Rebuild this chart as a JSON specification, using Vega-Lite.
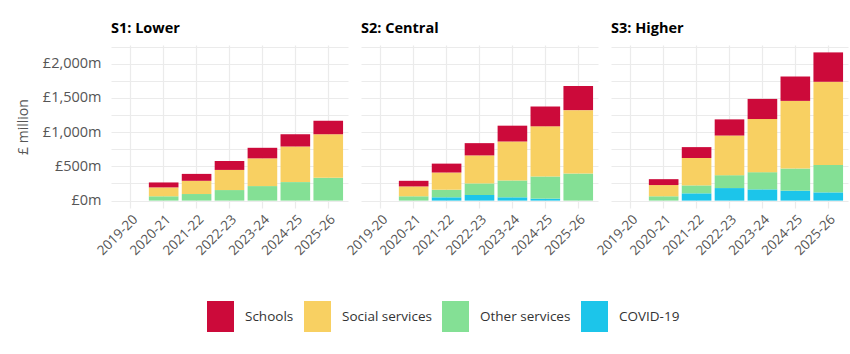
{
  "$schema": "https://vega.github.io/schema/vega-lite/v6.json",
  "padding": {"left": 16, "top": 20, "right": 5, "bottom": 5},
  "data": {"values": [
    {"scenario":"S1: Lower","year":"2020-21","category":"Other services","value":63},
    {"scenario":"S1: Lower","year":"2020-21","category":"Social services","value":130},
    {"scenario":"S1: Lower","year":"2020-21","category":"Schools","value":72},
    {"scenario":"S1: Lower","year":"2021-22","category":"Other services","value":96},
    {"scenario":"S1: Lower","year":"2021-22","category":"Social services","value":193},
    {"scenario":"S1: Lower","year":"2021-22","category":"Schools","value":101},
    {"scenario":"S1: Lower","year":"2022-23","category":"Other services","value":154},
    {"scenario":"S1: Lower","year":"2022-23","category":"Social services","value":294},
    {"scenario":"S1: Lower","year":"2022-23","category":"Schools","value":130},
    {"scenario":"S1: Lower","year":"2023-24","category":"Other services","value":212},
    {"scenario":"S1: Lower","year":"2023-24","category":"Social services","value":405},
    {"scenario":"S1: Lower","year":"2023-24","category":"Schools","value":154},
    {"scenario":"S1: Lower","year":"2024-25","category":"Other services","value":270},
    {"scenario":"S1: Lower","year":"2024-25","category":"Social services","value":520},
    {"scenario":"S1: Lower","year":"2024-25","category":"Schools","value":179},
    {"scenario":"S1: Lower","year":"2025-26","category":"Other services","value":333},
    {"scenario":"S1: Lower","year":"2025-26","category":"Social services","value":636},
    {"scenario":"S1: Lower","year":"2025-26","category":"Schools","value":197},
    {"scenario":"S2: Central","year":"2020-21","category":"Other services","value":63},
    {"scenario":"S2: Central","year":"2020-21","category":"Social services","value":144},
    {"scenario":"S2: Central","year":"2020-21","category":"Schools","value":82},
    {"scenario":"S2: Central","year":"2021-22","category":"COVID-19","value":48},
    {"scenario":"S2: Central","year":"2021-22","category":"Other services","value":111},
    {"scenario":"S2: Central","year":"2021-22","category":"Social services","value":251},
    {"scenario":"S2: Central","year":"2021-22","category":"Schools","value":130},
    {"scenario":"S2: Central","year":"2022-23","category":"COVID-19","value":82},
    {"scenario":"S2: Central","year":"2022-23","category":"Other services","value":169},
    {"scenario":"S2: Central","year":"2022-23","category":"Social services","value":409},
    {"scenario":"S2: Central","year":"2022-23","category":"Schools","value":179},
    {"scenario":"S2: Central","year":"2023-24","category":"COVID-19","value":48},
    {"scenario":"S2: Central","year":"2023-24","category":"Other services","value":246},
    {"scenario":"S2: Central","year":"2023-24","category":"Social services","value":569},
    {"scenario":"S2: Central","year":"2023-24","category":"Schools","value":231},
    {"scenario":"S2: Central","year":"2024-25","category":"COVID-19","value":29},
    {"scenario":"S2: Central","year":"2024-25","category":"Other services","value":323},
    {"scenario":"S2: Central","year":"2024-25","category":"Social services","value":733},
    {"scenario":"S2: Central","year":"2024-25","category":"Schools","value":289},
    {"scenario":"S2: Central","year":"2025-26","category":"Other services","value":395},
    {"scenario":"S2: Central","year":"2025-26","category":"Social services","value":926},
    {"scenario":"S2: Central","year":"2025-26","category":"Schools","value":352},
    {"scenario":"S3: Higher","year":"2020-21","category":"Other services","value":63},
    {"scenario":"S3: Higher","year":"2020-21","category":"Social services","value":164},
    {"scenario":"S3: Higher","year":"2020-21","category":"Schools","value":86},
    {"scenario":"S3: Higher","year":"2021-22","category":"COVID-19","value":106},
    {"scenario":"S3: Higher","year":"2021-22","category":"Other services","value":116},
    {"scenario":"S3: Higher","year":"2021-22","category":"Social services","value":400},
    {"scenario":"S3: Higher","year":"2021-22","category":"Schools","value":159},
    {"scenario":"S3: Higher","year":"2022-23","category":"COVID-19","value":183},
    {"scenario":"S3: Higher","year":"2022-23","category":"Other services","value":188},
    {"scenario":"S3: Higher","year":"2022-23","category":"Social services","value":579},
    {"scenario":"S3: Higher","year":"2022-23","category":"Schools","value":236},
    {"scenario":"S3: Higher","year":"2023-24","category":"COVID-19","value":164},
    {"scenario":"S3: Higher","year":"2023-24","category":"Other services","value":251},
    {"scenario":"S3: Higher","year":"2023-24","category":"Social services","value":776},
    {"scenario":"S3: Higher","year":"2023-24","category":"Schools","value":294},
    {"scenario":"S3: Higher","year":"2024-25","category":"COVID-19","value":145},
    {"scenario":"S3: Higher","year":"2024-25","category":"Other services","value":323},
    {"scenario":"S3: Higher","year":"2024-25","category":"Social services","value":988},
    {"scenario":"S3: Higher","year":"2024-25","category":"Schools","value":356},
    {"scenario":"S3: Higher","year":"2025-26","category":"COVID-19","value":120},
    {"scenario":"S3: Higher","year":"2025-26","category":"Other services","value":401},
    {"scenario":"S3: Higher","year":"2025-26","category":"Social services","value":1214},
    {"scenario":"S3: Higher","year":"2025-26","category":"Schools","value":429}
  ]},
  "transform": [
    {"calculate": "indexof(['COVID-19','Other services','Social services','Schools'], datum.category)", "as": "stack_order"}
  ],
  "facet": {
    "column": {
      "field": "scenario", "type": "nominal",
      "header": {"title": null, "labelAnchor": "start", "labelExpr": "'\u00a0\u00a0' + datum.label", "labelFontWeight": "bold", "labelFontSize": 14.5, "labelColor": "#000000", "labelFont": "Open Sans", "labelPadding": 9}
    }
  },
  "spacing": 13,
  "spec": {
    "width": 237,
    "height": 163,
    "mark": {"type": "bar"},
    "encoding": {
      "x": {
        "field": "year", "type": "nominal",
        "scale": {"domain": ["2019-20","2020-21","2021-22","2022-23","2023-24","2024-25","2025-26"], "paddingInner": 0.1, "paddingOuter": 0.15},
        "axis": {"title": null, "labelAngle": -45, "labelAlign": "right", "labelBaseline": "top", "bandPosition": 0.5, "grid": true, "ticks": false, "domain": false, "labelPadding": 4}
      },
      "y": {
        "field": "value", "type": "quantitative", "aggregate": "sum",
        "scale": {"domain": [-108, 2272], "nice": false, "zero": false},
        "axis": {"title": "£ million", "values": [0,250,500,750,1000,1250,1500,1750,2000,2250], "labelExpr": "datum.value % 500 == 0 ? '£' + format(datum.value, ',') + 'm' : ''", "ticks": false, "domain": false, "labelPadding": 10, "titlePadding": 12, "labelFontSize": 14.5}
      },
      "color": {
        "field": "category", "type": "nominal",
        "scale": {"domain": ["Schools","Social services","Other services","COVID-19"], "range": ["#cc0a3a","#f8d062","#84e095","#1cc5ea"]},
        "legend": {"title": null, "orient": "none", "direction": "horizontal", "legendX": 94, "legendY": 256, "symbolType": "M-0.87,-1H0.87V1H-0.87Z", "symbolSize": 961, "symbolStrokeWidth": 0, "symbolOpacity": 1, "labelFontSize": 13.5, "labelOffset": 9, "columnPadding": 8, "labelColor": "#333333"}
      },
      "order": {"field": "stack_order", "type": "quantitative", "sort": "ascending"}
    }
  },
  "config": {
    "font": "Open Sans",
    "view": {"stroke": null},
    "axis": {"gridColor": "#ebebeb", "gridWidth": 1.2, "labelFontSize": 13.5, "labelColor": "#555555", "titleFontSize": 14, "titleFontWeight": "normal", "titleColor": "#555555", "labelFont": "Open Sans", "titleFont": "Open Sans"},
    "legend": {"labelFont": "Open Sans"}
  }
}
